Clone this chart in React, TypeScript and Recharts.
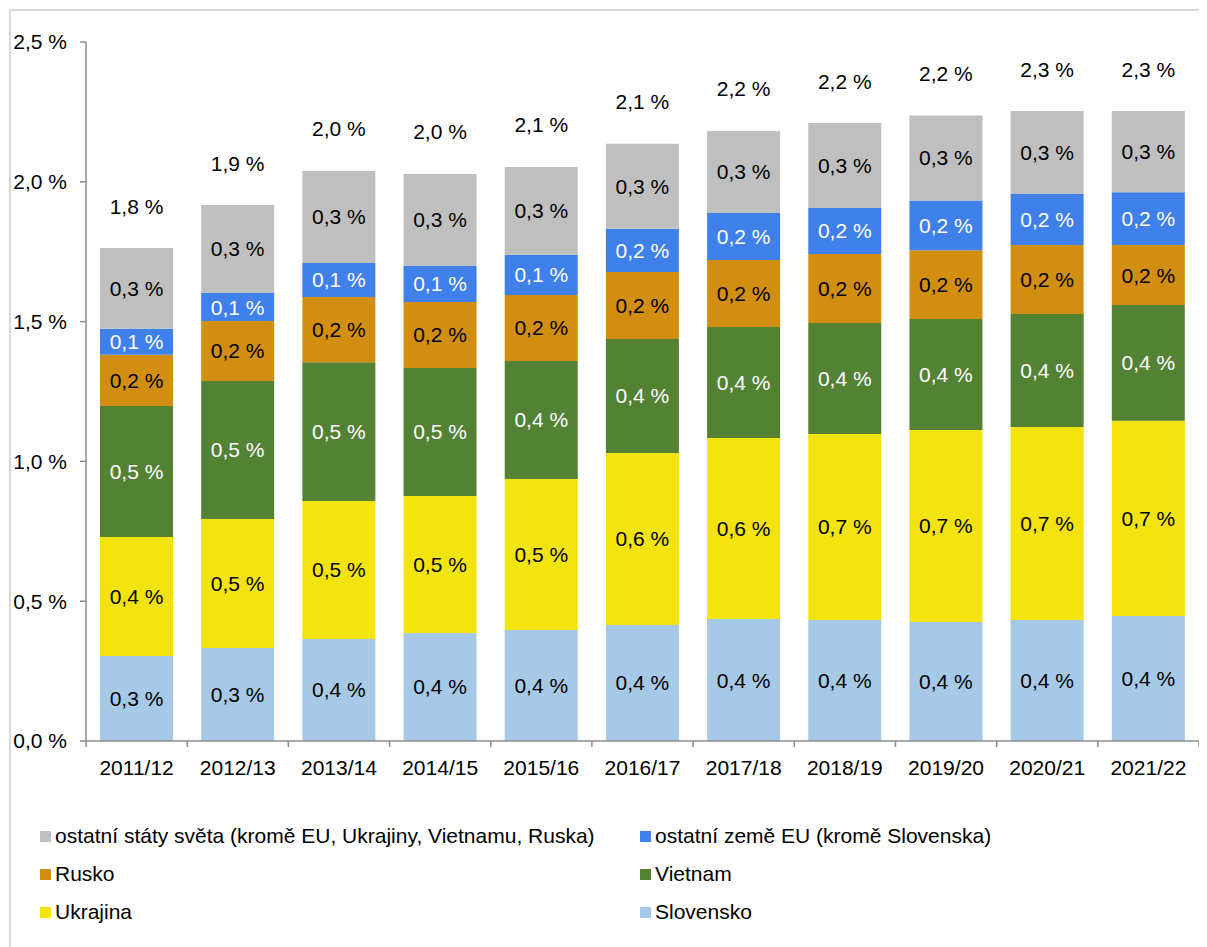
import React from 'react';
import { BarChart, Bar, XAxis, YAxis, LabelList } from 'recharts';

// school years
const categories = ['2011/12', '2012/13', '2013/14', '2014/15', '2015/16', '2016/17', '2017/18', '2018/19', '2019/20', '2020/21', '2021/22'];

// share of pupils by citizenship, in %
const slovensko = [0.304, 0.333, 0.365, 0.386, 0.397, 0.415, 0.436, 0.433, 0.426, 0.433, 0.447];
const ukrajina = [0.426, 0.461, 0.493, 0.490, 0.540, 0.615, 0.648, 0.665, 0.686, 0.690, 0.698];
const vietnam = [0.468, 0.494, 0.497, 0.458, 0.422, 0.408, 0.397, 0.397, 0.397, 0.404, 0.414];
const rusko = [0.183, 0.214, 0.233, 0.236, 0.236, 0.239, 0.239, 0.247, 0.246, 0.247, 0.215];
const ostatniEU = [0.093, 0.100, 0.122, 0.129, 0.144, 0.155, 0.168, 0.164, 0.178, 0.182, 0.189];
const ostatniSvet = [0.289, 0.315, 0.329, 0.329, 0.314, 0.304, 0.294, 0.304, 0.304, 0.297, 0.290];

const yTicks = [0, 0.5, 1, 1.5, 2, 2.5];

const series = [
  { key: 'slovensko', name: 'Slovensko', color: '#a6c9e8', labelColor: '#000' },
  { key: 'ukrajina', name: 'Ukrajina', color: '#f3e30e', labelColor: '#000' },
  { key: 'vietnam', name: 'Vietnam', color: '#548235', labelColor: '#fff' },
  { key: 'rusko', name: 'Rusko', color: '#d18e10', labelColor: '#000' },
  { key: 'ostatniEU', name: 'ostatní země EU (kromě Slovenska)', color: '#3f80ea', labelColor: '#fff' },
  { key: 'ostatniSvet', name: 'ostatní státy světa (kromě EU, Ukrajiny, Vietnamu, Ruska)', color: '#bfbfbf', labelColor: '#000' },
];

const data = categories.map((year, i) => ({
  year,
  slovensko: slovensko[i],
  ukrajina: ukrajina[i],
  vietnam: vietnam[i],
  rusko: rusko[i],
  ostatniEU: ostatniEU[i],
  ostatniSvet: ostatniSvet[i],
  total: slovensko[i] + ukrajina[i] + vietnam[i] + rusko[i] + ostatniEU[i] + ostatniSvet[i],
}));

const FONT = '"Liberation Sans", Arial, sans-serif';
const AXIS = '#8c8c8c';
const W = 1199;
const H = 939;
const MARGIN = { top: 34, right: 8, left: 0, bottom: 166 };
const Y_WIDTH = 78;
const STEP = (W - MARGIN.left - MARGIN.right - Y_WIDTH) / categories.length;

const fmt = (v: number) => v.toFixed(1).replace('.', ',') + ' %';

function XTick(props: any) {
  const { x, y, payload, index } = props;
  const left = x - STEP / 2;
  return (
    <g>
      <line x1={left} y1={y} x2={left} y2={y + 6} stroke={AXIS} strokeWidth={1.5} />
      {index === categories.length - 1 && (
        <line x1={x + STEP / 2} y1={y} x2={x + STEP / 2} y2={y + 6} stroke={AXIS} strokeWidth={1.5} />
      )}
      <text x={x} y={y + 34} textAnchor="middle" fontSize={21} fontFamily={FONT} fill="#000">
        {payload.value}
      </text>
    </g>
  );
}

function TotalLabel(props: any) {
  const { x, y, width, index } = props;
  return (
    <text x={x + width / 2} y={y - 42} textAnchor="middle" dominantBaseline="central" fontSize={21} fontFamily={FONT} fill="#000">
      {fmt(data[index].total)}
    </text>
  );
}

const legendOrder = [
  series[5], series[4],
  series[3], series[2],
  series[1], series[0],
];

export default function App() {
  return (
    <div style={{ position: 'relative', width: W, height: H, overflow: 'hidden', fontFamily: FONT }}>
      <div
        style={{
          position: 'absolute', left: 1, top: 1, width: W, height: H,
          borderTop: '2px solid #d9d9d9', borderLeft: '2px solid #d9d9d9',
        }}
      />
      <BarChart width={W} height={H} data={data} margin={MARGIN} barSize={73} style={{ position: 'absolute', left: 0, top: 0 }}>
        <XAxis
          dataKey="year"
          tick={<XTick />}
          tickLine={false}
          tickSize={0}
          tickMargin={0}
          height={40}
          interval={0}
          axisLine={{ stroke: AXIS, strokeWidth: 1.5 }}
        />
        <YAxis
          domain={[0, 2.5]}
          ticks={yTicks}
          width={Y_WIDTH}
          tickFormatter={fmt}
          tick={{ fontSize: 21, fontFamily: FONT, fill: '#000' }}
          tickLine={{ stroke: AXIS, strokeWidth: 1.5 }}
          tickSize={6}
          tickMargin={13}
          axisLine={{ stroke: AXIS, strokeWidth: 1.5 }}
          allowDataOverflow
        />
        {series.map((s, i) => (
          <Bar key={s.key} dataKey={s.key} stackId="a" fill={s.color} isAnimationActive={false}>
            <LabelList
              dataKey={s.key}
              position="center"
              formatter={(v: any) => fmt(Number(v))}
              style={{ fontSize: 21, fontFamily: FONT, fill: s.labelColor }}
            />
            {i === series.length - 1 && <LabelList dataKey="total" content={<TotalLabel />} />}
          </Bar>
        ))}
      </BarChart>
      <div style={{ position: 'absolute', left: 0, top: 0, width: W, height: H, pointerEvents: 'none' }}>
        {legendOrder.map((s, i) => {
          const col = i % 2;
          const row = Math.floor(i / 2);
          return (
            <div
              key={s.key}
              style={{
                position: 'absolute',
                left: col === 0 ? 32 : 632,
                top: 828 + row * 38 - 14,
                height: 28,
                display: 'flex',
                alignItems: 'center',
                fontSize: 21,
                color: '#000',
                whiteSpace: 'nowrap',
              }}
            >
              <span style={{ display: 'inline-block', width: 11, height: 11, background: s.color, marginRight: 4 }} />
              {s.name}
            </div>
          );
        })}
      </div>
    </div>
  );
}
